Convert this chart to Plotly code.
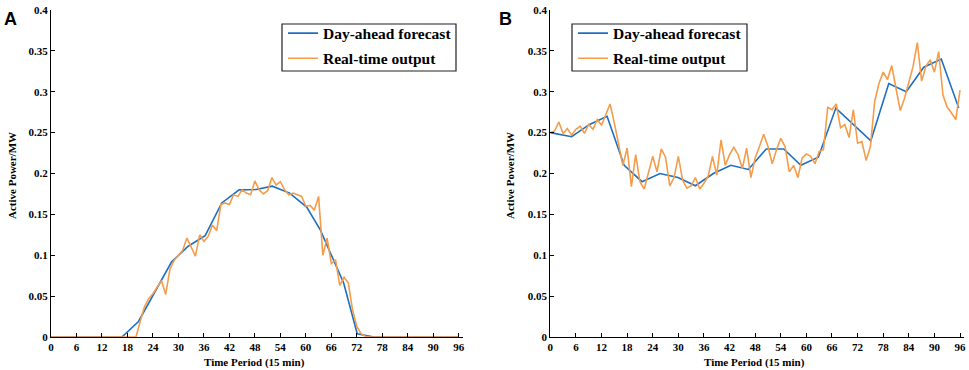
import plotly.graph_objects as go

# ---------------- data ----------------
steps = list(range(97))

# Panel A - day-ahead forecast (vertices)
fa_x = [0, 4.2, 8.3, 12.5, 16.7, 20.6, 24.4, 28.4, 32.3, 36.3, 40.2, 44.3, 48.3, 52.1,
        56.2, 60.2, 63.4, 66.1, 68.9, 72.1, 76, 80, 84, 88, 92, 96]
fa_y = [0, 0, 0, 0, 0, 0.019, 0.055, 0.092, 0.111, 0.124, 0.164, 0.180, 0.1805, 0.1845,
        0.176, 0.159, 0.131, 0.100, 0.066, 0.004, 0, 0, 0, 0, 0, 0]

# Panel A - real-time output (every 15 min period)
ra_y = [0] * 21 + [
    0.019, 0.037, 0.047, 0.053, 0.061, 0.069, 0.052, 0.083, 0.094, 0.100,   # 21-30
    0.106, 0.121, 0.110, 0.099, 0.125, 0.117, 0.123, 0.137, 0.130, 0.162,   # 31-40
    0.164, 0.162, 0.174, 0.172, 0.180, 0.176, 0.174, 0.191, 0.180, 0.175,   # 41-50
    0.179, 0.195, 0.186, 0.190, 0.180, 0.174, 0.176, 0.174, 0.172, 0.160,   # 51-60
    0.161, 0.155, 0.172, 0.100, 0.121, 0.090, 0.094, 0.063, 0.073, 0.066,   # 61-70
    0.033, 0.013, 0.004, 0.001] + [0] * 22                                    # 71-96

# Panel B - day-ahead forecast (vertices)
fb_x = [0, 5.0, 9.2, 13.3, 17.3, 21.5, 25.7, 29.9, 34.0, 38.2, 42.3, 46.4, 50.6, 54.7,
        58.7, 62.8, 66.9, 71.0, 75.1, 79.3, 83.4, 87.5, 91.6, 95.7]
fb_y = [0.250, 0.245, 0.260, 0.270, 0.210, 0.190, 0.200, 0.195, 0.185, 0.200, 0.210, 0.205,
        0.230, 0.230, 0.210, 0.220, 0.280, 0.260, 0.240, 0.310, 0.300, 0.330, 0.340, 0.280]

# Panel B - real-time output
rb_y = [0.250, 0.252, 0.263, 0.249, 0.255, 0.247, 0.254, 0.258, 0.249, 0.260,   # 0-9
        0.254, 0.266, 0.259, 0.271, 0.285, 0.262, 0.236, 0.210, 0.231, 0.184,   # 10-19
        0.223, 0.190, 0.181, 0.201, 0.221, 0.202, 0.230, 0.220, 0.185, 0.195,   # 20-29
        0.221, 0.192, 0.182, 0.185, 0.195, 0.181, 0.188, 0.197, 0.221, 0.198,   # 30-39
        0.241, 0.210, 0.223, 0.232, 0.223, 0.206, 0.231, 0.195, 0.219, 0.233,   # 40-49
        0.248, 0.233, 0.212, 0.229, 0.243, 0.233, 0.202, 0.210, 0.195, 0.219,   # 50-59
        0.224, 0.221, 0.212, 0.227, 0.229, 0.281, 0.278, 0.285, 0.256, 0.260,   # 60-69
        0.244, 0.278, 0.237, 0.239, 0.216, 0.233, 0.288, 0.310, 0.324, 0.315,   # 70-79
        0.332, 0.304, 0.277, 0.292, 0.312, 0.331, 0.360, 0.313, 0.331, 0.339,   # 80-89
        0.324, 0.349, 0.296, 0.281, 0.274, 0.266, 0.302]                        # 90-96

x_ticks = list(range(0, 97, 6))
y_ticks = [0, 0.05, 0.1, 0.15, 0.2, 0.25, 0.3, 0.35, 0.4]
y_tick_text = ["0", "0.05", "0.1", "0.15", "0.2", "0.25", "0.3", "0.35", "0.4"]

names = ["Day-ahead forecast", "Real-time output"]
panel_labels = ["A", "B"]
x_title = "Time Period (15 min)"
y_title = "Active Power/MW"

# ---------------- styling ----------------
W, H = 969, 370
BLUE = "#1c6fc2"
ORANGE = "#f59c4a"
SERIF = '"Liberation Serif", "Times New Roman", Times, serif'
SANS = '"Liberation Sans", Arial, sans-serif'

fig = go.Figure()

panels = [
    dict(fx=fa_x, fy=fa_y, ry=ra_y, xa="x", ya="y", legend="legend"),
    dict(fx=fb_x, fy=fb_y, ry=rb_y, xa="x2", ya="y2", legend="legend2"),
]
for p in panels:
    fig.add_trace(go.Scatter(x=p["fx"], y=p["fy"], mode="lines", name=names[0],
                             line=dict(color=BLUE, width=1.6), xaxis=p["xa"], yaxis=p["ya"],
                             legend=p["legend"], legendgroup=p["legend"] + "f"))
    fig.add_trace(go.Scatter(x=steps, y=p["ry"], mode="lines", name=names[1],
                             line=dict(color=ORANGE, width=1.6), xaxis=p["xa"], yaxis=p["ya"],
                             legend=p["legend"], legendgroup=p["legend"] + "r"))

# plot-area pixel boxes
xA = (51, 463)
xB = (550.3, 964.3)
y_top, y_bot = 10, 337

def px_x(v):
    return v / W

def px_y(v):
    return 1 - v / H

axis_common = dict(showline=True, linecolor="black", linewidth=1, ticks="inside",
                   tickcolor="black", showgrid=False, zeroline=False, mirror=False,
                   automargin=False,
                   tickfont=dict(family=SERIF, size=11, color="black", weight="bold"))

xcfg = dict(axis_common, range=[0, 97], tickvals=x_ticks, ticklen=4)
ycfg = dict(axis_common, range=[0, 0.4], tickvals=y_ticks, ticktext=y_tick_text, ticklen=4,
            domain=[px_y(y_bot), px_y(y_top)])

fig.update_layout(
    template="none",
    width=W, height=H, margin=dict(l=0, r=0, t=0, b=0, pad=0, autoexpand=False),
    paper_bgcolor="white", plot_bgcolor="white",
    xaxis=dict(xcfg, domain=[px_x(xA[0]), px_x(xA[1])], anchor="y"),
    yaxis=dict(ycfg, anchor="x"),
    xaxis2=dict(xcfg, domain=[px_x(xB[0]), px_x(xB[1])], anchor="y2"),
    yaxis2=dict(ycfg, anchor="x2"),
    showlegend=True,
)

# legends (frame drawn as a shape so it can hug the entries like the original)
leg_common = dict(xanchor="left", yanchor="top", bgcolor="rgba(0,0,0,0)", borderwidth=0,
                  font=dict(family=SERIF, size=15.5, color="black", weight="bold"),
                  tracegroupgap=2, traceorder="grouped", itemwidth=30)
fig.update_layout(
    legend=dict(leg_common, x=px_x(283), y=px_y(16.5)),
    legend2=dict(leg_common, x=px_x(573), y=px_y(16.5)),
)
shapes = []
for lx0, lx1 in [(282, 456), (572, 747)]:
    shapes.append(dict(type="rect", xref="paper", yref="paper", layer="above",
                       x0=px_x(lx0), x1=px_x(lx1), y0=px_y(71), y1=px_y(24),
                       line=dict(color="#222", width=1.2), fillcolor="white"))
fig.update_layout(shapes=shapes)

annots = []
for lab, xr, ytx in [(panel_labels[0], xA, 12), (panel_labels[1], xB, 510)]:
    x0 = 2 if lab == "A" else 497
    annots.append(dict(text=lab, x=px_x(x0), y=px_y(7), xref="paper", yref="paper",
                       xanchor="left", yanchor="top", showarrow=False,
                       font=dict(family=SANS, size=18, color="black", weight="bold")))
    annots.append(dict(text=x_title, x=px_x((xr[0] + xr[1]) / 2 - 3), y=px_y(362), xref="paper",
                       yref="paper", xanchor="center", yanchor="middle", showarrow=False,
                       font=dict(family=SERIF, size=11, color="black", weight="bold")))
    annots.append(dict(text=y_title, x=px_x(ytx), y=px_y(176), xref="paper", yref="paper",
                       xanchor="center", yanchor="middle", showarrow=False, textangle=-90,
                       font=dict(family=SERIF, size=11, color="black", weight="bold")))
fig.update_layout(annotations=annots)

fig.write_html("out.html", config={"displayModeBar": False},
               post_script="document.body.style.margin='0';document.body.style.overflow='hidden';")
